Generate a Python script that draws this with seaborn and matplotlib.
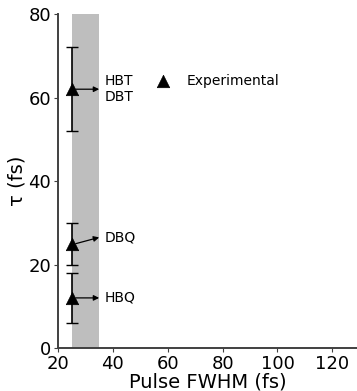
import matplotlib
matplotlib.use("Agg")
import matplotlib.pyplot as plt
import seaborn as sns
import pandas as pd

# Measured lifetimes vs. pulse width
molecules = ["HBQ", "DBQ", "HBT/DBT"]
pulse_fwhm = [25, 25, 25]
tau = [12, 25, 62]
tau_err = [6, 5, 10]

# Label text and where it sits (fs, fs)
label_text = ["HBQ", "DBQ", "HBT\nDBT"]
label_y = [12, 26.5, 62]

band_start, band_end = 25, 35

df = pd.DataFrame({"molecule": molecules, "fwhm": pulse_fwhm, "tau": tau, "err": tau_err})

sns.set_style("ticks")
plt.rcParams["font.family"] = ["DejaVu Sans"]
plt.rcParams["text.color"] = "black"
plt.rcParams["axes.labelcolor"] = "black"
plt.rcParams["xtick.labelcolor"] = "black"
plt.rcParams["ytick.labelcolor"] = "black"

fig = plt.figure(figsize=(3.57, 3.91), dpi=100)
ax = fig.add_axes([0.1625, 0.11, 0.8375, 0.854])

ax.axvspan(band_start, band_end, color="#bebebe", lw=0, zorder=0)

ax.errorbar(df["fwhm"], df["tau"], yerr=df["err"], fmt="none", ecolor="black",
            elinewidth=1.2, capsize=4, capthick=1.0, zorder=2)
sns.scatterplot(data=df, x="fwhm", y="tau", marker="^", s=80, color="black",
                edgecolor="black", linewidth=0.5, label="Experimental", ax=ax, zorder=3)

for x0, y0, txt, ly in zip(df["fwhm"], df["tau"], label_text, label_y):
    ax.annotate("", xy=(band_end, ly), xytext=(x0 + 1.5, y0),
                arrowprops=dict(arrowstyle="-|>", color="black", lw=0.9,
                                mutation_scale=8, shrinkA=0, shrinkB=0))
    ax.text(band_end + 2, ly, txt, fontsize=10, va="center", ha="left",
            linespacing=1.15)

ax.set_xlim(20, 129)
ax.set_ylim(0, 80)
ax.set_xticks([20, 40, 60, 80, 100, 120])
ax.set_yticks([0, 20, 40, 60, 80])
ax.tick_params(labelsize=13, length=3, width=0.8, color="#404040", pad=2)
ax.set_xlabel("Pulse FWHM (fs)", fontsize=14, labelpad=0)
ax.set_ylabel("τ (fs)", fontsize=14, labelpad=1)

sns.despine(ax=ax)
for side in ("left", "bottom"):
    ax.spines[side].set_color("#404040")
    ax.spines[side].set_linewidth(1.4)

ax.legend(loc="center left", bbox_to_anchor=(0.287, 0.80), frameon=False,
          fontsize=10, handletextpad=0.66, borderaxespad=0)

fig.savefig("out.png", dpi=100)
